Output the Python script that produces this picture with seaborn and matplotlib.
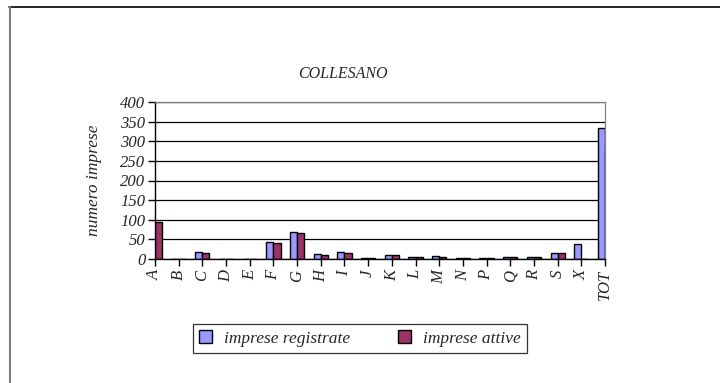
"""
COLLESANO - imprese registrate / attive per sezione
"""
import pandas as pd
import numpy as np
import matplotlib
matplotlib.use("Agg")
import matplotlib.pyplot as plt
import seaborn as sns
from matplotlib.lines import Line2D
from matplotlib.patches import Patch

# Data
categories = ['A', 'B', 'C', 'D', 'E', 'F', 'G', 'H', 'I', 'J',
              'K', 'L', 'M', 'N', 'P', 'Q', 'R', 'S', 'X', 'TOT']
registrate = [98, 0, 17, 0, 0, 44, 70, 12, 18, 2,
              11, 4, 7, 3, 3, 5, 4, 16, 38, 333]
attive = [95, 0, 15, 0, 0, 42, 65, 10, 16, 2,
          10, 4, 6, 3, 3, 5, 4, 15, 0, 278]
series_names = ['imprese registrate', 'imprese attive']
y_ticks = [0, 50, 100, 150, 200, 250, 300, 350, 400]

df = pd.DataFrame({
    'sezione': categories * 2,
    'numero': registrate + attive,
    'serie': [series_names[0]] * len(categories) + [series_names[1]] * len(categories),
})

sns.set_style("white")
plt.rcParams['font.family'] = ['Liberation Serif', 'DejaVu Serif']
plt.rcParams['font.style'] = 'italic'

colors = {'imprese registrate': '#9999FF', 'imprese attive': '#993366'}

fig = plt.figure(figsize=(7.2, 3.83), dpi=100)
ax = fig.add_axes([155 / 720, 1 - 259 / 383, 450 / 720, 157 / 383])

sns.barplot(
    data=df, x='sezione', y='numero', hue='serie', order=categories,
    hue_order=series_names, palette=colors, width=0.6, dodge=True,
    edgecolor='black', linewidth=1.0, saturation=1, legend=False, ax=ax
)

ax.set_xlim(0, len(categories) - 1)
ax.set_ylim(0, 400)
ax.set_yticks(y_ticks)
ax.yaxis.grid(True, color='black', linewidth=0.9)
ax.set_axisbelow(True)

for side in ['top', 'right']:
    ax.spines[side].set_color('#808080')
    ax.spines[side].set_linewidth(0.9)
for side in ['left', 'bottom']:
    ax.spines[side].set_color('black')
    ax.spines[side].set_linewidth(1.0)

ax.tick_params(axis='both', direction='out', length=5, width=1, color='black',
               labelsize=12, pad=2, bottom=True, left=True)
ax.tick_params(axis='x', pad=3)
ax.set_xticks(range(len(categories)))
ax.set_xticklabels(categories, rotation=90, fontstyle='italic')
for lbl in ax.get_yticklabels():
    lbl.set_fontstyle('italic')

ax.set_xlabel('')
ax.set_ylabel('numero imprese', fontsize=12.5, fontstyle='italic', labelpad=13)

fig.text(343 / 720, 1 - 74 / 383, 'COLLESANO', ha='center', va='center',
         fontsize=11.5, fontstyle='italic')

handles = [Patch(facecolor=colors[s], edgecolor='black', linewidth=1.0) for s in series_names]
leg = fig.legend(handles, series_names, loc='center', ncol=2,
                 bbox_to_anchor=(360 / 720, 1 - 338.5 / 383),
                 frameon=True, fancybox=False, edgecolor='black',
                 prop={'style': 'italic', 'size': 12.5},
                 handlelength=0.7, handleheight=0.7, handletextpad=0.7,
                 columnspacing=2.8, borderpad=0.35, borderaxespad=0.2)
leg.get_frame().set_linewidth(0.9)

# chart area border (top and left visible)
fig.add_artist(Line2D([9 / 720, 1], [1 - 7 / 383, 1 - 7 / 383], color='black', linewidth=1.2))
fig.add_artist(Line2D([10 / 720, 10 / 720], [0, 1 - 7 / 383], color='#808080', linewidth=1.5))

plt.savefig('out.png', dpi=100)
